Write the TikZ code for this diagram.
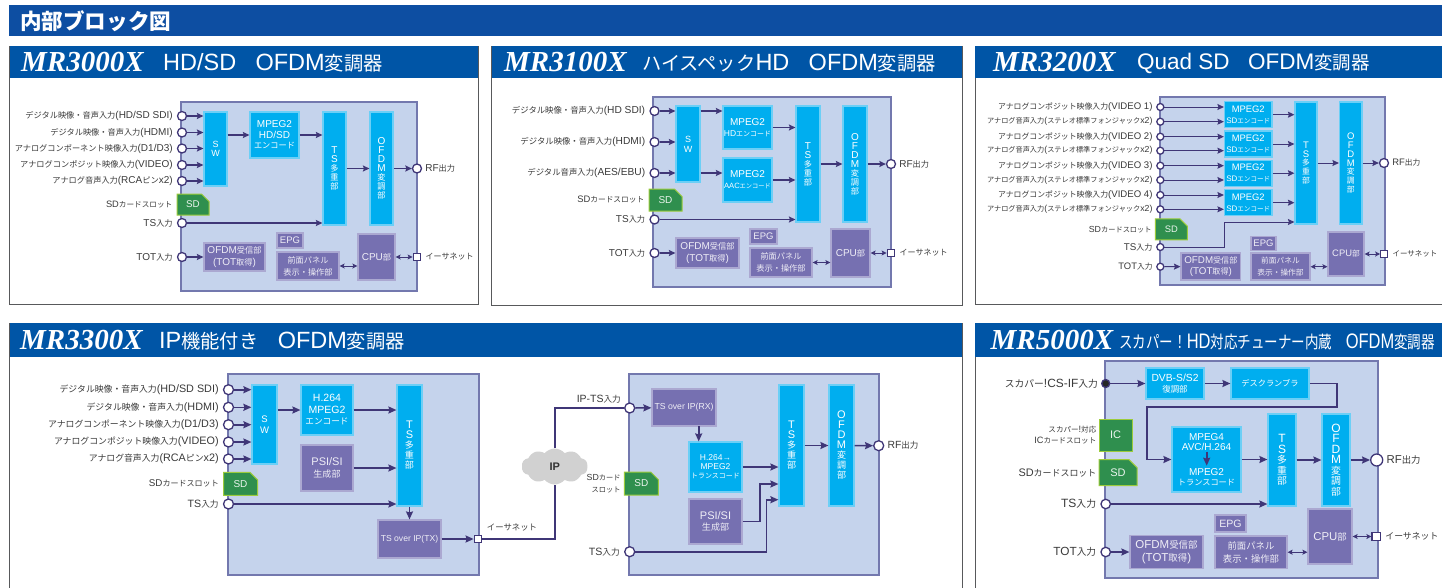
\documentclass[tikz,border=0pt]{standalone}
\usepackage{fontspec}
\setmainfont{Liberation Sans}
\newfontfamily\jpfont{Noto Sans CJK JP}[Scale=0.82]
\newfontfamily\modelfont{Liberation Serif}[BoldItalicFont=* Bold Italic]
% Japanese characters switch to the CJK family by themselves
\XeTeXinterchartokenstate=1
\newXeTeXintercharclass\jpclass
\newcount\jpcode
\jpcode="3000 \loop \XeTeXcharclass\jpcode=\jpclass \ifnum\jpcode<"30FF \advance\jpcode 1 \repeat
\jpcode="4E00 \loop \XeTeXcharclass\jpcode=\jpclass \ifnum\jpcode<"9FFF \advance\jpcode 1 \repeat
\jpcode="FF00 \loop \XeTeXcharclass\jpcode=\jpclass \ifnum\jpcode<"FF60 \advance\jpcode 1 \repeat
\XeTeXinterchartoks 0 \jpclass={\begingroup\jpfont}
\XeTeXinterchartoks 4095 \jpclass={\begingroup\jpfont}
\XeTeXinterchartoks \jpclass 0={\endgroup}
\XeTeXinterchartoks \jpclass 4095={\endgroup}
\usetikzlibrary{positioning, arrows.meta, shapes.misc, shapes.symbols}
\definecolor{barblue}{HTML}{0D4EA2}
\definecolor{headblue}{HTML}{0055A6}
\definecolor{framegray}{HTML}{58595B}
\definecolor{panelfill}{HTML}{C5D3EC}
\definecolor{paneledge}{HTML}{7378AE}
\definecolor{cyanfill}{HTML}{00AEEF}
\definecolor{cyanedge}{HTML}{6CCFF6}
\definecolor{purplefill}{HTML}{7670B1}
\definecolor{purpleedge}{HTML}{ABA8D1}
\definecolor{wirecol}{HTML}{3F3677}
\definecolor{sdfill}{HTML}{2F8F4E}
\definecolor{sdedge}{HTML}{9CCB3B}
\definecolor{labeltext}{HTML}{3A3A3A}
\tikzset{
->, % every wire is directed
>={Stealth[length=6.5pt,width=6pt,inset=1pt]},
fs/.style 2 args={font=\fontsize{#1}{#2}\selectfont},
boxsize/.style args={#1x#2}{minimum width=#1,minimum height=#2},
cyanbox/.style={rectangle, draw=cyanedge, fill=cyanfill, line width=1.2, inner sep=0, align=center, text=white, fs={10}{10.5}},
purplebox/.style={rectangle, draw=purpleedge, fill=purplefill, line width=1.2, inner sep=0, align=center, text=white!88!purplefill, fs={10}{12}},
sdcard/.style={chamfered rectangle, chamfered rectangle corners=north east, chamfered rectangle xsep=4pt, chamfered rectangle ysep=4pt, draw=sdedge, fill=sdfill, line width=1, inner sep=0, text=white!90!sdfill, fs={9.8}{10}},
port/.style={circle, draw=wirecol, fill=white, line width=1.3, inner sep=0, minimum size=#1},
port/.default=9,
ethport/.style={rectangle, draw=wirecol, fill=white, line width=1.3, inner sep=0, minimum size=7.5},
portlabel/.style={inner sep=0, text=labeltext, align=right, fs={#1}{11.5}},
portlabel/.default=10,
wire/.style={draw=wirecol, line width=1.4},
both/.style={wire, <->, line width=1, >={Stealth[length=5pt,width=5pt,inset=1pt]}},
panel/.style={draw=paneledge, fill=panelfill, line width=2},
frame/.style={draw=framegray, fill=white, line width=1},
modelname/.style={anchor=west, inner sep=0, text=white, font=\modelfont\fontsize{29}{29}\selectfont\bfseries\itshape},
subname/.style={anchor=west, inner sep=0, text=white, fs={23.5}{24}},
}
\begin{document}
\begin{tikzpicture}[x=1pt,y=-1pt]
\path[use as bounding box, clip] (0,0) rectangle (1442,587);
\fill[white] (0,0) rectangle (1442,587);
\fill[barblue] (9,5) rectangle (1442,36);
\node[anchor=west, inner sep=0, text=white, font=\fontsize{26.3}{26}\selectfont\bfseries] (pagehead) at (20,21) {内部ブロック図};

% MR3000X
\draw[frame] (9.5,46) rectangle (478,304);
\fill[headblue] (9.5,46) rectangle (478,78);
\node[modelname] (namea) at (21,62) {MR3000X};
\node[subname] (suba) at (163,63) {HD/SD　OFDM変調器};
\draw[panel] (181,102) rectangle (417,291);
\node[cyanbox, boxsize=23x74, fs={9}{9}] (swa) at (215.5,149) {S\\W};
\node[cyanbox, boxsize=49x46] (mpa) at (274.5,135) {MPEG2\\HD/SD\\エンコード};
\node[cyanbox, boxsize=23x113, fs={10}{9}] (tsa) at (334.5,168.5) {T\\S\\多\\重\\部};
\node[cyanbox, boxsize=23x113, fs={10}{9}] (ofa) at (381.5,168.5) {O\\F\\D\\M\\変\\調\\部};
\node[purplebox, boxsize=61x28] (oaa) at (234.5,257) {OFDM受信部\\(TOT取得)};
\node[purplebox, boxsize=26x15, fs={9.5}{12}] (epa) at (290,240.5) {EPG};
\node[purplebox, boxsize=62x28] (fpa) at (308,266) {前面パネル\\表示・操作部};
\node[purplebox, boxsize=37x46] (cpa) at (376.5,257) {CPU部};
\node[sdcard, boxsize=32x21] (sda) at (193,204.5) {SD};
\foreach \n/\ypos/\txt in {1/116/{デジタル映像・音声入力(HD/SD SDI)}, 2/132.5/{デジタル映像・音声入力(HDMI)}, 3/148.5/{アナログコンポーネント映像入力(D1/D3)}, 4/165/{アナログコンポジット映像入力(VIDEO)}, 5/181/{アナログ音声入力(RCAピンx2)}} {
  \node[port] (pa\n) at (182,\ypos) {};
  \node[portlabel, left=4pt of pa\n] (la\n) {\txt};
  \draw[wire] (pa\n) -- (pa\n -| swa.west);
}
\node[port] (tsina) at (182,223) {};
\node[port] (totina) at (182,257) {};
\node[port] (rfa) at (417,168.5) {};
\node[ethport] (etha) at (417,257) {};
\node[portlabel=9.3, left=4pt of sda] (lsda) {SDカードスロット};
\node[portlabel, left=4pt of tsina] (ltsa) {TS入力};
\node[portlabel, left=4pt of totina] (ltota) {TOT入力};
\node[portlabel, right=3pt of rfa] (lrfa) {RF出力};
\node[portlabel=9.8, right=4pt of etha] (letha) {イーサネット};
\draw[wire] (swa.east |- mpa) -- (mpa);
\draw[wire] (mpa) -- (mpa -| tsa.west);
\draw[wire] (tsa) -- (ofa);
\draw[wire] (ofa) -- (rfa);
\draw[wire] (tsina) -- (tsina -| tsa.west);
\draw[wire] (totina) -- (oaa);
\draw[both] (fpa) -- (fpa -| cpa.west);
\draw[both] (cpa.east |- etha) -- (etha);

% MR3100X
\draw[frame] (491.5,46) rectangle (962,305);
\fill[headblue] (491.5,46) rectangle (962,78);
\node[modelname] (nameb) at (504,62) {MR3100X};
\node[subname] (subb) at (642,63) {ハイスペックHD　OFDM変調器};
\draw[panel] (653,97) rectangle (891,287);
\node[cyanbox, boxsize=24x76, fs={9}{10}] (swb) at (688,144) {S\\W};
\node[cyanbox, boxsize=49x43, fs={10}{11}] (hdb) at (747.5,127.5) {MPEG2\\\fontsize{8.5}{11}\selectfont HDエンコード};
\node[cyanbox, boxsize=49x44, fs={10}{11}] (aab) at (747.5,180) {MPEG2\\\fontsize{7.6}{11}\selectfont AACエンコード};
\node[cyanbox, boxsize=24x116, fs={10}{9}] (tsb) at (808,164) {T\\S\\多\\重\\部};
\node[cyanbox, boxsize=24x116, fs={10}{9}] (ofb) at (855,164) {O\\F\\D\\M\\変\\調\\部};
\node[purplebox, boxsize=63x30] (oab) at (707.5,253) {OFDM受信部\\(TOT取得)};
\node[purplebox, boxsize=27x15, fs={9.5}{12}] (epb) at (763.5,236.5) {EPG};
\node[purplebox, boxsize=62x29] (fpb) at (781,262.5) {前面パネル\\表示・操作部};
\node[purplebox, boxsize=39x48] (cpb) at (850.5,253) {CPU部};
\node[sdcard, boxsize=33x22, fs={10}{10}] (sdb) at (665.5,200) {SD};
\foreach \n/\ypos/\txt in {1/111/{デジタル映像・音声入力(HD SDI)}, 2/142/{デジタル映像・音声入力(HDMI)}, 3/173/{デジタル音声入力(AES/EBU)}} {
  \node[port] (pb\n) at (654.5,\ypos) {};
  \node[portlabel=10.2, left=4pt of pb\n] (lb\n) {\txt};
  \draw[wire] (pb\n) -- (pb\n -| swb.west);
}
\node[port] (tsinb) at (654.5,219.5) {};
\node[port] (totinb) at (654.5,253) {};
\node[port] (rfb) at (891,164) {};
\node[ethport] (ethb) at (891,253) {};
\node[portlabel=9.4, left=4pt of sdb] (lsdb) {SDカードスロット};
\node[portlabel, left=4pt of tsinb] (ltsb) {TS入力};
\node[portlabel, left=4pt of totinb] (ltotb) {TOT入力};
\node[portlabel, right=3pt of rfb] (lrfb) {RF出力};
\node[portlabel=9.8, right=4pt of ethb] (lethb) {イーサネット};
\draw[wire] (pb1 -| swb.east) -- (pb1 -| hdb.west);
\draw[wire] (pb3 -| swb.east) -- (pb3 -| aab.west);
\draw[wire] (hdb) -- (hdb -| tsb.west);
\draw[wire] (aab) -- (aab -| tsb.west);
\draw[wire] (tsb) -- (ofb);
\draw[wire] (ofb) -- (rfb);
\draw[wire] (tsinb) -- (tsinb -| tsb.west);
\draw[wire] (totinb) -- (oab);
\draw[both] (fpb) -- (fpb -| cpb.west);
\draw[both] (cpb.east |- ethb) -- (ethb);

% MR3200X
\draw[frame] (975,46) rectangle (1450,304);
\fill[headblue] (975,46) rectangle (1450,78);
\node[modelname] (namec) at (993,62) {MR3200X};
\node[subname, fs={22.5}{24}] (subc) at (1137,63) {Quad SD　OFDM変調器};
\draw[panel] (1160,96.5) rectangle (1385,285);
\node[cyanbox, boxsize=22x122, fs={9.5}{8.8}] (tsc) at (1306,163) {T\\S\\多\\重\\部};
\node[cyanbox, boxsize=22.5x122, fs={9.5}{8.8}] (ofc) at (1350.75,163) {O\\F\\D\\M\\変\\調\\部};
\foreach \n/\ybox/\yv/\ya in {1/114.7/107/121.7, 2/144/136.7/150.7, 3/173.2/165.7/180, 4/202.7/195/209.3} {
  \node[cyanbox, boxsize=47.5x26, fs={9.4}{11}] (mc\n) at (1248.25,\ybox) {MPEG2\\\fontsize{8}{11}\selectfont SDエンコード};
  \node[port=7] (vc\n) at (1160.3,\yv) {};
  \node[port=7] (ac\n) at (1160.3,\ya) {};
  \node[portlabel=9.6, left=3.5pt of vc\n] (lv\n) {アナログコンポジット映像入力(VIDEO \n)};
  \node[portlabel=8.76, left=3.5pt of ac\n] (la\n c) {アナログ音声入力(ステレオ標準フォンジャックx2)};
  \draw[wire, line width=1] (vc\n) -- (vc\n -| mc\n.west);
  \draw[wire, line width=1] (ac\n) -- (ac\n -| mc\n.west);
  \draw[wire, line width=1] (mc\n) -- (mc\n -| tsc.west);
}
\node[purplebox, boxsize=59.5x27, fs={9.8}{11}] (oac) at (1210.8,266.5) {OFDM受信部\\(TOT取得)};
\node[purplebox, boxsize=25x14, fs={9.5}{10.5}] (epc) at (1263.5,243.7) {EPG};
\node[purplebox, boxsize=59x27, fs={9.4}{12}] (fpc) at (1280.5,266.5) {前面パネル\\表示・操作部};
\node[purplebox, boxsize=36x44, fs={9.4}{10}] (cpc) at (1346,254) {CPU部};
\node[sdcard, boxsize=32x21, fs={9.4}{10}] (sdc) at (1171.3,229.3) {SD};
\node[port=7] (tsinc) at (1160.3,247) {};
\node[port=7] (totinc) at (1160.3,266.7) {};
\node[port] (rfc) at (1384,163) {};
\node[ethport, minimum size=7] (ethc) at (1384.3,254) {};
\coordinate (bendc) at (1224.7,222);
\node[portlabel=8.8, left=3pt of sdc] (lsdc) {SDカードスロット};
\node[portlabel=9.8, left=3.5pt of tsinc] (ltsc) {TS入力};
\node[portlabel=9.4, left=3.5pt of totinc] (ltotc) {TOT入力};
\node[portlabel=9.4, right=3pt of rfc] (lrfc) {RF出力};
\node[portlabel=9.1, right=4pt of ethc] (lethc) {イーサネット};
\draw[wire, line width=1] (tsc) -- (ofc);
\draw[wire, line width=1] (ofc) -- (rfc);
\draw[wire, line width=1] (tsinc) -| (bendc) -- (bendc -| tsc.west);
\draw[wire, line width=1] (totinc) -- (oac);
\draw[both] (fpc.east |- totinc) -- (totinc -| cpc.west);
\draw[both] (cpc) -- (ethc);

\begin{scope}[wire/.append style={line width=1.6, >={Stealth[length=8pt,width=7pt,inset=1pt]}}]
% MR3300X
\draw[frame] (9.5,323) rectangle (962,595);
\fill[headblue] (9.5,323) rectangle (962,357);
\node[modelname] (named) at (20,340) {MR3300X};
\node[subname] (subd) at (159,341.5) {IP機能付き　OFDM変調器};
\draw[panel] (228,374) rectangle (479,575);
\node[cyanbox, boxsize=25x79, fs={9.5}{10.5}] (swd) at (264.5,424.5) {S\\W};
\node[cyanbox, boxsize=52x50, fs={10.5}{11.5}] (h2d) at (327,410) {H.264\\MPEG2\\エンコード};
\node[purplebox, boxsize=52x46, fs={11}{11.5}] (psd) at (327,468) {PSI/SI\\生成部};
\node[cyanbox, boxsize=25x121, fs={11}{10}] (tsd) at (409.5,445.5) {T\\S\\多\\重\\部};
\node[purplebox, boxsize=63x38, fs={8.6}{10}] (txd) at (409.5,539) {TS over IP(TX)};
\node[sdcard, boxsize=34x23, fs={10}{10}] (sdd) at (240.5,483.8) {SD};
\foreach \n/\ypos/\txt in {1/389.7/{デジタル映像・音声入力(HD/SD SDI)}, 2/407.3/{デジタル映像・音声入力(HDMI)}, 3/424.7/{アナログコンポーネント映像入力(D1/D3)}, 4/442/{アナログコンポジット映像入力(VIDEO)}, 5/459/{アナログ音声入力(RCAピンx2)}} {
  \node[port=10] (pd\n) at (228.5,\ypos) {};
  \node[portlabel=10.8, left=4pt of pd\n] (ld\n) {\txt};
  \draw[wire] (pd\n) -- (pd\n -| swd.west);
}
\node[port=10] (tsind) at (228.5,504) {};
\node[ethport] (ethd) at (478,539) {};
\node[portlabel=9.8, left=4pt of sdd] (lsdd) {SDカードスロット};
\node[portlabel=10.6, left=4pt of tsind] (ltsd) {TS入力};
\node[portlabel=10.2, anchor=south] (lethd) at (512,531) {イーサネット};
\draw[wire] (swd.east |- h2d) -- (h2d);
\draw[wire] (h2d) -- (h2d -| tsd.west);
\draw[wire] (psd) -- (psd -| tsd.west);
\draw[wire] (tsind) -- (tsind -| tsd.west);
\draw[wire] (tsd) -- (txd);
\draw[wire] (txd) -- (ethd);
\node[cloud, cloud puffs=10, cloud puff arc=100, aspect=1.9, fill=black!18, inner sep=0, boxsize=66x36, text=black!80, font=\fontsize{11}{11}\selectfont\bfseries] (ipcloud) at (554.7,466.5) {IP};
\draw[panel] (629,374) rectangle (879,575);
\node[purplebox, boxsize=64x37, fs={8.7}{10}] (rxe) at (684,407.5) {TS over IP(RX)};
\node[cyanbox, boxsize=53x50, fs={8.5}{9}] (tce) at (715.5,467) {H.264→\\MPEG2\\トランスコード};
\node[purplebox, boxsize=53x45, fs={11}{11.5}] (pse) at (715.5,521.5) {PSI/SI\\生成部};
\node[cyanbox, boxsize=25x121, fs={11}{10}] (tse) at (791.5,445.5) {T\\S\\多\\重\\部};
\node[cyanbox, boxsize=25x121, fs={11}{10}] (ofe) at (841.5,445.5) {O\\F\\D\\M\\変\\調\\部};
\node[sdcard, boxsize=34x23, fs={10}{10}] (sde) at (641.3,483.5) {SD};
\node[port=10] (ipin) at (629.7,408) {};
\node[port=10] (tsine) at (629.7,551.7) {};
\node[port=10] (rfe) at (878.7,445.7) {};
\coordinate (rxdown) at (698.7,426);
\coordinate (bendps) at (760,484);
\coordinate (bendts) at (766.3,499.7);
\node[portlabel=10.5, anchor=east] (lipin) at (621,399) {IP-TS入力};
\node[portlabel=8.8, left=3pt of sde] (lsde) {SDカード\\スロット};
\node[portlabel=10.6, left=4pt of tsine] (ltse) {TS入力};
\node[portlabel=10.4, right=3pt of rfe] (lrfe) {RF出力};
\draw[wire, -] (ethd) -| (ipcloud.south);
\draw[wire, -] (ipcloud.north) |- (ipin);
\draw[wire] (ipin) -- (rxe);
\draw[wire] (rxdown) -- (rxdown |- tce.north);
\draw[wire] (tce) -- (tce -| tse.west);
\draw[wire] (pse) -| (bendps) -- (bendps -| tse.west);
\draw[wire] (tsine) -| (bendts) -- (bendts -| tse.west);
\draw[wire] (tse) -- (ofe);
\draw[wire] (ofe) -- (rfe);

% MR5000X
\draw[frame] (975,323) rectangle (1450,595);
\fill[headblue] (975,323) rectangle (1450,357);
\node[modelname] (namef) at (990.5,340) {MR5000X};
\node[subname, fs={21}{20}, xscale=.785, transform shape] (subf) at (1119,341.5) {スカパー！HD対応チューナー内蔵　OFDM変調器};
\draw[panel] (1104.5,361) rectangle (1378,577.5);
\node[cyanbox, boxsize=58x31, fs={10.3}{11}] (dvf) at (1175,383.5) {DVB-S/S2\\復調部};
\node[cyanbox, boxsize=78x31] (def) at (1270,383.5) {デスクランブラ};
\node[cyanbox, boxsize=69x65] (mpf) at (1206.5,459.5) {MPEG4\\AVC/H.264\\[14pt]MPEG2\\トランスコード};
\node[cyanbox, boxsize=28x92, fs={12}{10.5}] (tsf) at (1282,460) {T\\S\\多\\重\\部};
\node[cyanbox, boxsize=28x92, fs={12}{10.5}] (off) at (1336,460) {O\\F\\D\\M\\変\\調\\部};
\node[purplebox, boxsize=44x55, fs={11.4}{12}] (cpf) at (1330,536.5) {CPU部};
\node[purplebox, boxsize=31x17, fs={10.6}{12}] (epf) at (1230.5,523.5) {EPG};
\node[purplebox, boxsize=72x32.5, fs={11.4}{13}] (fpf) at (1251,552.2) {前面パネル\\表示・操作部};
\node[purplebox, boxsize=73x33, fs={11.5}{13}] (oaf) at (1166.5,552) {OFDM受信部\\(TOT取得)};
\node[rectangle, draw=sdedge, fill=sdfill, line width=1, inner sep=0, text=white!90!sdfill, fs={11}{11}, boxsize=33x32] (icf) at (1115.5,435) {IC};
\node[sdcard, boxsize=38x26, fs={11}{11}] (sdf) at (1118,472.7) {SD};
\node[port=8, fill=black!85] (csf) at (1105.7,383.5) {};
\node[port=9.5] (tsinf) at (1105.7,504) {};
\node[port=9.5] (totinf) at (1105.7,552) {};
\node[port=12] (rff) at (1376.7,460) {};
\node[ethport, minimum size=8.5] (ethf) at (1376.3,536.5) {};
\coordinate (bendf) at (1336.7,406.7);
\coordinate (turnf) at (1146.7,459.5);
\coordinate (mpinf) at (1206.7,451.7);
\coordinate (mpoutf) at (1206.7,465.7);
\node[portlabel=11.9, left=3pt of csf] (lcsf) {スカパー!CS-IF入力};
\node[portlabel=9.2, left=2pt of icf] (licf) {スカパー!対応\\ICカードスロット};
\node[portlabel=10.9, left=2pt of sdf] (lsdf) {SDカードスロット};
\node[portlabel=12, left=4pt of tsinf] (ltsf) {TS入力};
\node[portlabel=11.8, left=4pt of totinf] (ltotf) {TOT入力};
\node[portlabel=11.4, right=3pt of rff] (lrff) {RF出力};
\node[portlabel=10.8, right=4pt of ethf] (lethf) {イーサネット};
\draw[wire] (csf) -- (dvf);
\draw[wire] (dvf) -- (def);
\draw[wire] (def) -| (bendf) -| (turnf) -- (mpf.west);
\draw[wire] (mpinf) -- (mpoutf);
\draw[wire] (mpf) -- (mpf -| tsf.west);
\draw[wire] (tsf) -- (off);
\draw[wire] (off) -- (rff);
\draw[wire] (tsinf) -- (tsinf -| tsf.west);
\draw[wire] (totinf) -- (oaf);
\draw[both] (fpf) -- (fpf -| cpf.west);
\draw[both] (cpf.east |- ethf) -- (ethf);
\end{scope}
\end{tikzpicture}
\end{document}
